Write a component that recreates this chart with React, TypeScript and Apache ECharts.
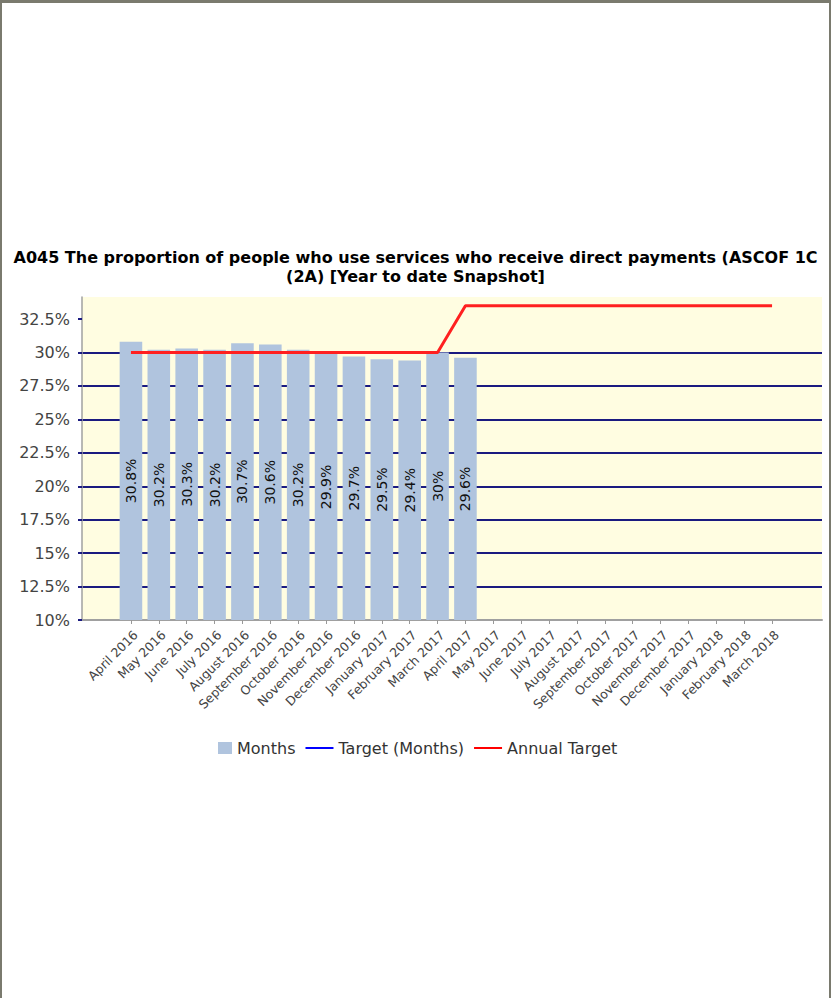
import React, { useEffect, useRef } from "react";
import * as echarts from "echarts";

const titleLines = [
  "A045 The proportion of people who use services who receive direct payments (ASCOF 1C",
  "(2A) [Year to date Snapshot]",
];

const categories = [
  "April 2016", "May 2016", "June 2016", "July 2016", "August 2016", "September 2016",
  "October 2016", "November 2016", "December 2016", "January 2017", "February 2017", "March 2017",
  "April 2017", "May 2017", "June 2017", "July 2017", "August 2017", "September 2017",
  "October 2017", "November 2017", "December 2017", "January 2018", "February 2018", "March 2018",
];

const monthsValues = [30.8, 30.2, 30.3, 30.2, 30.7, 30.6, 30.2, 29.9, 29.7, 29.5, 29.4, 30, 29.6];
const targetMonths: (number | null)[] = [];
const annualTarget = [
  30, 30, 30, 30, 30, 30, 30, 30, 30, 30, 30, 30,
  33.5, 33.5, 33.5, 33.5, 33.5, 33.5, 33.5, 33.5, 33.5, 33.5, 33.5, 33.5,
];

const yTicks = [10, 12.5, 15, 17.5, 20, 22.5, 25, 27.5, 30, 32.5];
const yMin = 10;
const yMax = 34.15;

export default function App() {
  const ref = useRef<HTMLDivElement>(null);
  useEffect(() => {
    document.body.style.margin = "0";
    const chart = echarts.init(ref.current!, null, { renderer: "svg" });
    const font = "DejaVu Sans";
    const navy = "#1a1a80";
    chart.setOption({
      animation: false,
      textStyle: { fontFamily: font },
      title: {
        text: titleLines.join("\n"),
        left: "center",
        top: 248,
        padding: 0,
        textStyle: { fontSize: 16, fontWeight: "bold", color: "#000", lineHeight: 19, fontFamily: font },
      },
      legend: {
        left: 204,
        top: 740,
        padding: 0,
        itemWidth: 28,
        itemHeight: 12,
        itemGap: 10,
        textStyle: { fontSize: 16, color: "#333", fontFamily: font },
        data: [
          { name: "Months", icon: "path://M0,0M14,0h14v12h-14z" },
          { name: "Target (Months)", icon: "path://M0,0h28v2h-28z" },
          { name: "Annual Target", icon: "path://M0,0h28v2h-28z" },
        ],
      },
      grid: [
        { left: 82, right: 9, top: 297, bottom: 378, show: true, backgroundColor: "#fffde1", borderWidth: 0 },
        { left: 117, right: 45, top: 297, bottom: 378 },
      ],
      xAxis: [
        {
          gridIndex: 0, type: "value", min: 0, max: 1,
          axisLine: { show: true, onZero: false, lineStyle: { color: "#a0a0a0", width: 2 } },
          axisTick: { show: false }, axisLabel: { show: false }, splitLine: { show: false },
        },
        {
          gridIndex: 1, type: "category", data: categories,
          axisLine: { show: false },
          axisTick: { show: true, alignWithLabel: true, length: 4, lineStyle: { color: "#999" } },
          axisLabel: {
            rotate: 45, interval: 0, fontSize: 12.5, color: "#444", margin: 8,
            verticalAlign: "top", fontFamily: font,
          },
        },
      ],
      yAxis: [
        {
          gridIndex: 0, type: "value", min: yMin, max: yMax, interval: 2.5,
          axisLine: { show: true, onZero: false, lineStyle: { color: "#a0a0a0", width: 1.5 } },
          axisTick: { show: true, length: 4, customValues: yTicks, lineStyle: { color: navy, width: 2 } },
          axisLabel: {
            customValues: yTicks,
            formatter: (v: number) => `${v}%`,
            fontSize: 16, color: "#444", margin: 12, fontFamily: font,
          },
          splitLine: { show: true, showMinLine: false, showMaxLine: false, lineStyle: { color: navy, width: 2 } },
        },
        { gridIndex: 1, type: "value", min: yMin, max: yMax, show: false, splitLine: { show: false } },
      ],
      series: [
        {
          name: "Months", type: "bar", xAxisIndex: 1, yAxisIndex: 1, data: monthsValues,
          zlevel: 1, z: 2,
          barCategoryGap: "19%",
          itemStyle: { color: "#b0c4de", opacity: 1 },
          label: {
            show: true, position: "inside", rotate: 90,
            formatter: (p: any) => `${p.value}%`,
            fontSize: 14, color: "#111", fontFamily: font,
          },
        },
        {
          name: "Target (Months)", type: "line", xAxisIndex: 1, yAxisIndex: 1, data: targetMonths,
          zlevel: 1, z: 3,
          symbol: "none", itemStyle: { color: "#0000ff" }, lineStyle: { color: "#0000ff", width: 2 },
        },
        {
          name: "Annual Target", type: "line", xAxisIndex: 1, yAxisIndex: 1, data: annualTarget,
          zlevel: 1, z: 4,
          symbol: "none", itemStyle: { color: "#ff0000" }, lineStyle: { color: "#ff2020", width: 3 },
        },
      ],
    });
    return () => chart.dispose();
  }, []);

  return (
    <div style={{ position: "relative", width: 831, height: 998 }}>
      <div ref={ref} style={{ position: "absolute", left: 0, top: 0, width: 831, height: 998 }} />
      <div
        style={{
          position: "absolute", left: 0, top: 0, width: 831, height: 998, boxSizing: "border-box",
          borderTop: "3px solid #7a7a6e", borderLeft: "2px solid #7a7a6e", borderRight: "2px solid #7a7a6e",
          pointerEvents: "none",
        }}
      />
    </div>
  );
}
